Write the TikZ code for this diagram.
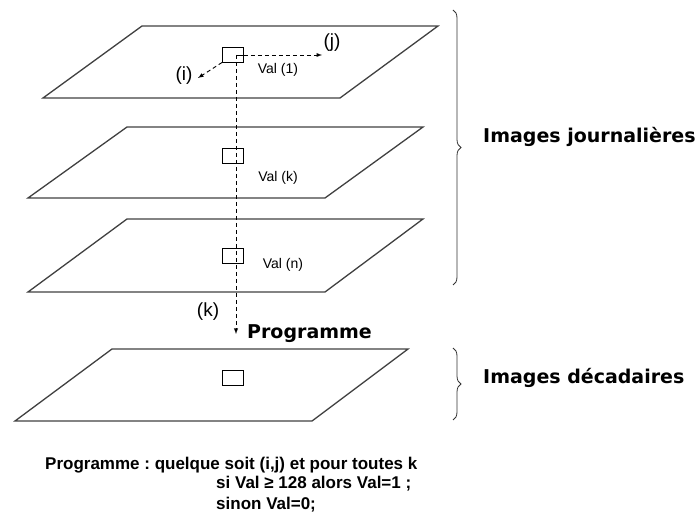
\documentclass[tikz,border=0pt]{standalone}
\usepackage{fontspec}
\setmainfont{Liberation Sans}
\newfontfamily\headfont{DejaVu Sans}
\usepackage{tikz}
\usetikzlibrary{arrows,calc,decorations.pathreplacing}
\frenchspacing

\tikzset{
  plane/.style={draw=black!75, line width=1.3pt},
  cell/.style={draw=black, line width=0.9pt, minimum width=21pt, minimum height=15pt, inner sep=0pt},
  track/.style={dash pattern=on 4pt off 3pt, line width=0.9pt, -latex},
  vallabel/.style={font=\fontsize{14}{16}\selectfont, inner sep=0pt},
  idxlabel/.style={font=\fontsize{19}{22}\selectfont, inner sep=0pt},
  headlabel/.style={font=\headfont\bfseries\fontsize{19}{23}\selectfont, inner sep=0pt},
  ruletext/.style={font=\bfseries\fontsize{17}{20}\selectfont, inner sep=0pt},
  bracket/.style={decorate, decoration={brace, amplitude=8pt}, line width=0.8pt, draw=black!80}
}

\begin{document}
\begin{tikzpicture}[x=1pt,y=-1pt]
           \useasboundingbox (0,0) rectangle (699,518);
           % the four image planes
           \draw[plane] (43,98) -- (340,98) -- (438,26) -- (142,26) -- cycle;
           \draw[plane] (28,198) -- (325,198) -- (423,127) -- (127,127) -- cycle;
           \draw[plane] (28,292) -- (325,292) -- (423,219) -- (127,219) -- cycle;
           \draw[plane] (15,421) -- (312,421) -- (408,349) -- (112,349) -- cycle;
           % one pixel in each plane
           \node[cell] (c1) at (233,54.5) {};
           \node[cell] (c2) at (232.5,155.5) {};
           \node[cell] (c3) at (232.5,255.5) {};
           \node[cell] (c4) at (232.5,377.5) {};
           \coordinate (start) at (236,55);
           \coordinate (iend) at (198,78);
           \coordinate (jend) at (322,55);
           \coordinate (kend) at (236,334);
           \draw[line width=0.9pt] (start) -- (start -| c1.east);
           \draw[track] (c1.east |- start) -- (jend);
           \draw[track] (c1.south west) -- (iend);
           \draw[track] (start) -- (kend);
           \node[idxlabel] (i) at (184,76) {(i)};
           \node[idxlabel] (j) at (332,43) {(j)};
           \node[idxlabel] (k) at (208,312) {(k)};
           \node[vallabel] (v1) at (278,70) {Val (1)};
           \node[vallabel] (vk) at (278,178) {Val (k)};
           \node[vallabel] (vn) at (283,265) {Val (n)};
           \node[headlabel,anchor=base west] (prog) at (247,339) {Programme};
           % braces and their captions
           \coordinate (b1top) at (453,10);
           \coordinate (b1bot) at (453,285);
           \coordinate (b2top) at (453,348);
           \coordinate (b2bot) at (453,420);
           \draw[bracket] (b1top) -- (b1bot);
           \draw[bracket] (b2top) -- (b2bot);
           \node[headlabel,anchor=base west] (daily) at (483,143) {Images journalières};
           \node[headlabel,anchor=base west] (dekad) at (483,384) {Images décadaires};
           % rule of the program
           \node[ruletext,anchor=base west] (rule1) at (45,469) {Programme : quelque soit (i,j) et pour toutes k};
           \node[ruletext,anchor=base west] (rule2) at (216,489) {si Val ≥ 128 alors Val=1 ;};
           \node[ruletext,anchor=base west] (rule3) at (216,509) {sinon Val=0;};
        \end{tikzpicture}
\end{document}
